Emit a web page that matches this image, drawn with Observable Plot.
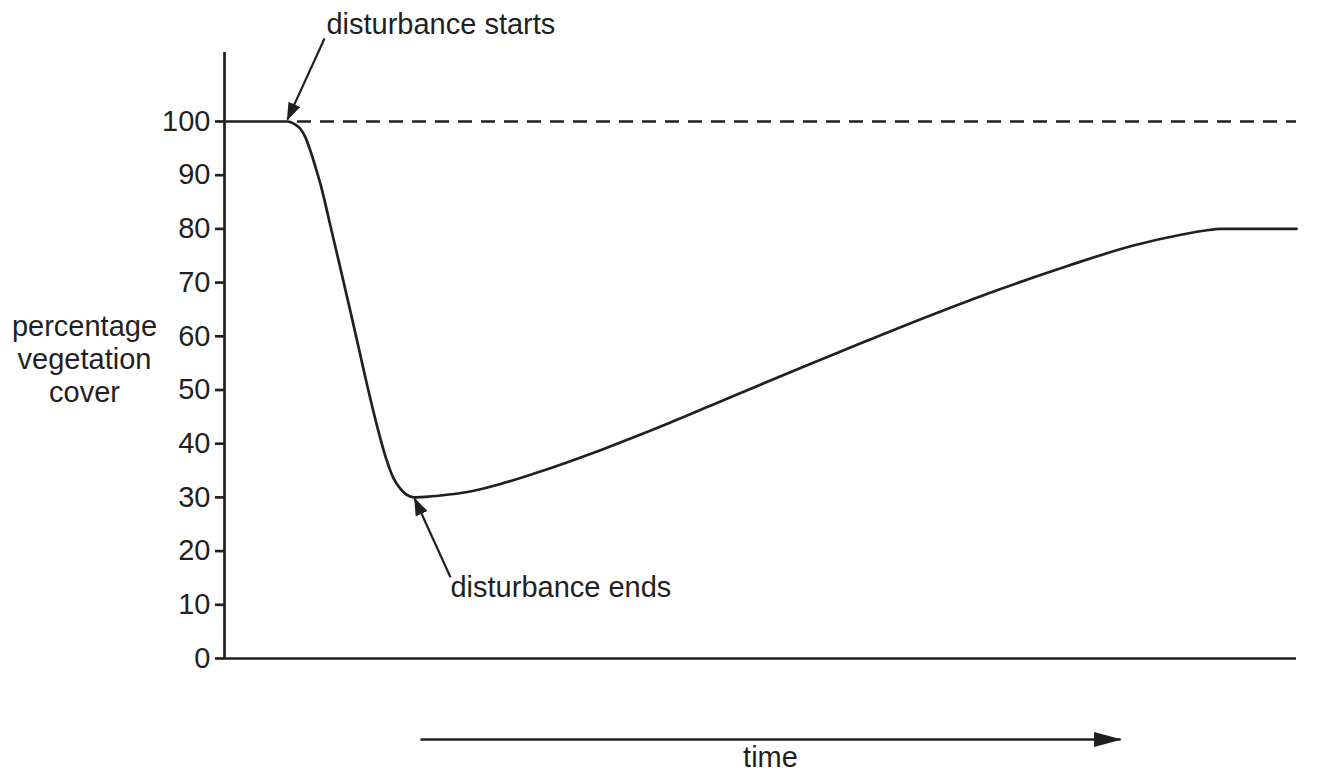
<!DOCTYPE html>
<html>
<head>
<meta charset="utf-8">
<script src="https://cdn.jsdelivr.net/npm/d3@7"></script>
<script src="https://cdn.jsdelivr.net/npm/@observablehq/plot@0.6"></script>
<style>
  html, body { margin: 0; padding: 0; background: #ffffff; }
  #chart { width: 1328px; height: 774px; }
</style>
</head>
<body>
<div id="chart"></div>
<script>
// ---- data ----
const time  = [0, 5.88, 6.62, 7.09, 7.56, 8.02, 8.49, 8.96, 9.89, 10.82, 11.75, 12.5, 13.34, 14.27, 15.02, 15.76, 16.42, 16.98, 17.63, 18.75, 20.15, 22.67, 25.75, 28.82, 35.07, 41.32, 47.48, 53.73, 59.98, 66.14, 72.39, 78.64, 84.79, 89.46, 91.51, 92.91, 100];
const cover = [100, 100, 99.4, 98.6, 97.0, 94.5, 91.5, 88.3, 80.5, 72.6, 64.6, 58.0, 50.6, 43.0, 37.6, 33.6, 31.6, 30.5, 30, 30.1, 30.35, 31.0, 32.5, 34.4, 38.8, 43.7, 48.9, 54.1, 59.2, 64.1, 68.8, 73.1, 76.9, 79.0, 79.7, 80, 80];
const yTicks = [0, 10, 20, 30, 40, 50, 60, 70, 80, 90, 100];
const baselineValue = 100;
const baselineStart = 6.81;

// annotations (data coordinates)
const annLabels = ["disturbance starts", "disturbance ends"];
const annTextX  = [9.51, 21.08];
const annTextY  = [118.1, 13.1];
const annFromX  = [9.33, 21.08];
const annFromY  = [115.46, 15.14];
const annToX    = [5.88, 17.75];
const annToY    = [100.4, 29.74];

const axisTitleLines = "percentage\nvegetation\ncover";
const axisTitlePos = {x: -13.06, y: 55.9};
const timeArrow = {x1: 18.28, x2: 83.58, y: -15.08};
const timeLabel = {text: "time", x: 50.93, y: -18.4};

const ink = "#231f20";
const fs = 29;

const series = time.map((t, i) => ({t, v: cover[i]}));
const annotations = annLabels.map((label, i) => ({
  label, tx: annTextX[i], ty: annTextY[i],
  x1: annFromX[i], y1: annFromY[i], x2: annToX[i], y2: annToY[i]
}));

function headMarker(len, wid) {
  return (color) => {
    const ns = "http://www.w3.org/2000/svg";
    const m = document.createElementNS(ns, "marker");
    m.setAttribute("viewBox", `${-len} ${-wid / 2} ${len} ${wid}`);
    m.setAttribute("markerWidth", len);
    m.setAttribute("markerHeight", wid);
    m.setAttribute("markerUnits", "userSpaceOnUse");
    m.setAttribute("orient", "auto");
    m.setAttribute("refX", -1.5);
    m.setAttribute("refY", 0);
    const p = document.createElementNS(ns, "path");
    p.setAttribute("d", `M${-len},${-wid / 2}L0,0L${-len},${wid / 2}Z`);
    p.setAttribute("fill", ink);
    p.setAttribute("stroke", "none");
    m.appendChild(p);
    return m;
  };
}

const chart = Plot.plot({
  width: 1328,
  height: 774,
  marginLeft: 224,
  marginRight: 32,
  marginTop: 52,
  marginBottom: 116,
  style: {fontFamily: "'Liberation Sans', Arial, sans-serif", fontSize: fs + "px", background: "#ffffff", color: ink},
  x: {domain: [0, 100], axis: null},
  y: {domain: [0, 112.85], axis: null},
  marks: [
    Plot.axisY({ticks: yTicks, tickSize: 9, tickPadding: 5, fontSize: fs, color: ink, strokeWidth: 2.7, label: null, tickFormat: d => String(d)}),
    Plot.ruleY([baselineValue], {x1: baselineStart, x2: 100, stroke: ink, strokeWidth: 2.7, strokeDasharray: "14,9"}),
    Plot.ruleX([0], {stroke: ink, strokeWidth: 2.7}),
    Plot.ruleY([0], {stroke: ink, strokeWidth: 2.7}),
    Plot.line(series, {x: "t", y: "v", curve: "monotone-x", stroke: ink, strokeWidth: 2.7}),
    Plot.link(annotations, {x1: "x1", y1: "y1", x2: "x2", y2: "y2", stroke: ink, strokeWidth: 2.2, markerEnd: headMarker(18, 13)}),
    Plot.text(annotations, {x: "tx", y: "ty", text: "label", textAnchor: "start", lineAnchor: "middle", fontSize: fs, fill: ink}),
    Plot.link([timeArrow], {x1: "x1", x2: "x2", y1: "y", y2: "y", stroke: ink, strokeWidth: 2.7, markerEnd: headMarker(28, 15)}),
    Plot.text([timeLabel], {x: "x", y: "y", text: "text", textAnchor: "middle", lineAnchor: "middle", fontSize: fs, fill: ink}),
    Plot.text([axisTitlePos], {x: "x", y: "y", text: () => axisTitleLines, textAnchor: "middle", lineAnchor: "middle", lineHeight: 1.14, fontSize: fs, fill: ink})
  ]
});

document.getElementById("chart").appendChild(chart);
</script>
</body>
</html>
